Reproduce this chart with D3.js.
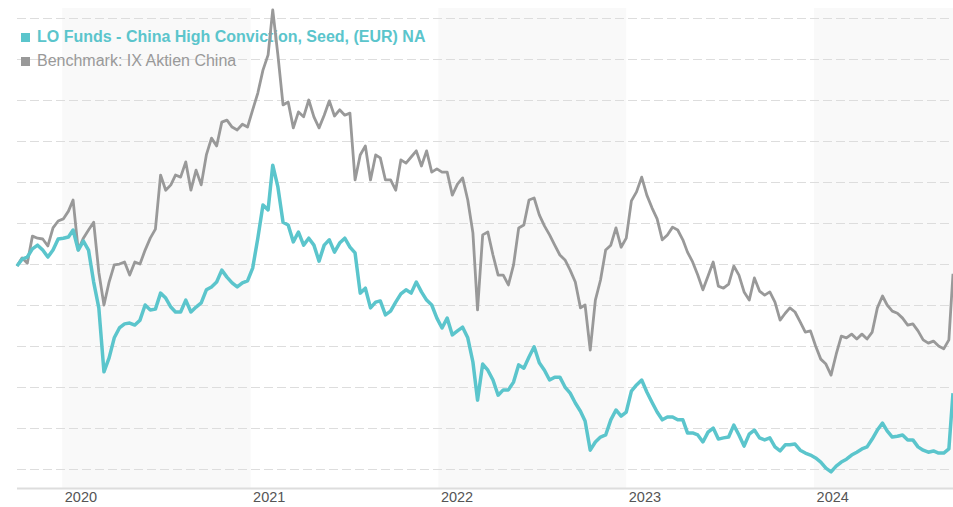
<!DOCTYPE html>
<html>
<head>
<meta charset="utf-8">
<script src="https://cdn.jsdelivr.net/npm/d3@7"></script>
<style>
  body { margin: 0; background: #fff; }
  svg { display: block; font-family: "Liberation Sans", Arial, sans-serif; }
</style>
</head>
<body>
<svg id="chart" width="953" height="507"></svg>
<script>
// series, indexed (start ~ 100), sampled roughly every 10 days, last point = last day
const startDate = new Date(2019, 9, 5)
const endDate = new Date(2024, 8, 27)
const sampleDays = 9.95

const seriesNames = ['LO Funds - China High Conviction, Seed, (EUR) NA', 'Benchmark: IX Aktien China']
const yearTicks = [2020, 2021, 2022, 2023, 2024]
const valueTicks = [50, 60, 70, 80, 90, 100, 110, 120, 130, 140, 150, 160]

const fundValues = [
  99.5, 101.2, 101.7, 103.7, 104.6, 103.4, 101.7, 103.4, 106.1, 106.3,
  106.6, 108.3, 103.4, 105.6, 103.4, 95.6, 89.3, 73.7, 77.1, 82,
  84.4, 85.4, 85.6, 85.1, 86.3, 90, 88.8, 89, 92.9, 91.7,
  89.5, 88.3, 88.3, 91.2, 88.3, 89.5, 90.5, 93.7, 94.4, 95.6,
  98.5, 96.8, 95.4, 94.4, 95.4, 95.9, 99, 106.3, 114.4, 113.2,
  124.1, 118.8, 110.2, 109.5, 105.4, 107.8, 104.6, 106.3, 104.6, 100.7,
  104.6, 105.9, 102.9, 105.1, 106.3, 104.1, 102.7, 92.9, 94.1, 89.3,
  90.7, 91, 87.6, 88.5, 90.7, 92.7, 93.7, 92.9, 95.6, 93.2,
  91.2, 90, 86.8, 84.4, 86.8, 82.7, 83.7, 84.6, 82, 76.1,
  66.8, 75.6, 74.1, 71.7, 68, 69.3, 69.3, 71.2, 75.4, 74.6,
  77.3, 79.8, 75.9, 74.1, 71.7, 72.4, 72.4, 70, 68.5, 66.1,
  64.1, 61.7, 54.6, 56.6, 57.8, 58.3, 62, 64.4, 62.9, 63.9,
  69, 70.5, 71.7, 68.8, 66.3, 63.9, 62, 62.7, 62.7, 62,
  62, 58.8, 58.8, 58.3, 56.6, 59, 60, 57.3, 57.6, 57.8,
  60.7, 58.3, 55.6, 58.5, 59.5, 57.6, 57.1, 57.6, 55.4, 54.4,
  55.9, 55.9, 56.1, 54.6, 53.9, 53.4, 52.7, 51.7, 50.2, 49.3,
  50.7, 51.7, 52.4, 53.4, 54.1, 54.9, 55.4, 57.3, 59.5, 61.2,
  59.3, 57.8, 58, 58.3, 57.1, 57.1, 55.4, 54.6, 54.1, 54.4,
  53.9, 53.9, 54.9, 68.5
]

const benchValues = [
  99.5, 101.5, 100.2, 106.8, 106.3, 106.1, 104.4, 108.8, 110.5, 111,
  112.9, 115.6, 103.4, 106.3, 108.3, 110.2, 98, 90, 95.6, 99.8,
  100, 100.5, 97.3, 100.5, 100, 103.4, 106.3, 108.5, 121.7, 118,
  119.3, 121.7, 121.2, 124.9, 118, 122.9, 119.3, 126.6, 130.7, 128.8,
  134.6, 135.1, 133.4, 132.7, 134.1, 133.4, 137.6, 141.7, 147.3, 151,
  162, 151, 138.8, 139.5, 133.2, 137.1, 135.9, 140, 135.9, 133.2,
  136.3, 139.8, 136.1, 137.6, 136.3, 136.8, 120.5, 126.6, 128.8, 120.5,
  126.6, 125.9, 120.5, 120.5, 118, 125.4, 124.6, 126.1, 127.6, 123.9,
  127.6, 122.4, 123.2, 122.4, 122.4, 116.8, 119.5, 121, 115.6, 107.6,
  88.8, 107.1, 107.8, 102.2, 97.3, 97.3, 94.9, 99.8, 108.8, 109.5,
  115.6, 116.1, 112, 109.3, 107.1, 104.6, 102.2, 101, 98.5, 95.6,
  89.3, 90, 79, 91.2, 96.1, 103.4, 104.6, 108.8, 104.1, 106.3,
  115.4, 117.6, 121.2, 116.8, 113.7, 111, 105.9, 107.1, 109, 108.3,
  105.9, 102.9, 100.5, 97.3, 93.7, 97.1, 100.5, 94.6, 94.1, 95.1,
  99.5, 97.3, 93.2, 91.2, 96.6, 93.4, 92.4, 93.2, 90.7, 86.3,
  88, 89.3, 88.3, 85.9, 83.4, 83.7, 80, 76.8, 75.6, 72.9,
  78, 82.4, 82, 82.9, 81.7, 82.9, 81.7, 83.4, 89.3, 92.2,
  90, 88.5, 88, 86.8, 85.1, 85.4, 83.7, 81.5, 80.7, 81.2,
  80, 79.3, 81.5, 97.6
]

const colors = { fund: '#5bc5cc', bench: '#999999', band: '#f9f9f9', grid: '#dddddd' }

const width = 953
const height = 507
const plot = { left: 17, right: 953, top: 8, bottom: 488 }

const toPoints = (values) => values.map((v, i) => ({
  date: i === values.length - 1 ? endDate : d3.timeDay.offset(startDate, Math.round(i * sampleDays)),
  value: v,
}))

const fund = toPoints(fundValues)
const bench = toPoints(benchValues)

const x = d3.scaleTime()
  .domain([startDate, endDate])
  .range([plot.left, plot.right])

const y = d3.scaleLinear()
  .domain([45.37, 162.44])
  .range([plot.bottom, plot.top])

const svg = d3.select('#chart')
  .attr('width', width)
  .attr('height', height)

// alternating year bands
const bands = yearTicks.filter((yr) => yr % 2 === 0)
svg.append('g')
  .selectAll('rect')
  .data(bands)
  .enter().append('rect')
  .attr('x', (yr) => x(new Date(yr, 0, 1)))
  .attr('y', plot.top)
  .attr('width', (yr) => Math.min(x(new Date(yr + 1, 0, 1)), plot.right) - x(new Date(yr, 0, 1)))
  .attr('height', plot.bottom - plot.top)
  .style('fill', colors.band)

// dashed grid
svg.append('g')
  .selectAll('line')
  .data(valueTicks)
  .enter().append('line')
  .attr('x1', plot.left)
  .attr('x2', plot.right)
  .attr('y1', (d) => Math.round(y(d)) + 0.5)
  .attr('y2', (d) => Math.round(y(d)) + 0.5)
  .style('stroke', colors.grid)
  .style('stroke-width', 1.2)
  .style('stroke-dasharray', '9,4')

// bottom axis
const xAxis = d3.axisBottom(x)
  .tickValues(yearTicks.map((yr) => new Date(yr, 0, 1)))
  .tickFormat(d3.timeFormat('%Y'))
  .tickSize(0)

const axisG = svg.append('g')
  .attr('transform', `translate(0, ${plot.bottom})`)
  .call(xAxis)

axisG.select('.domain')
  .attr('d', `M${plot.left},0.5H${plot.right}`)
  .style('stroke', colors.grid)
  .style('stroke-width', 2)

axisG.selectAll('text')
  .attr('text-anchor', 'start')
  .attr('x', 2)
  .attr('y', 14)
  .attr('dy', 0)
  .style('font-family', '"Liberation Sans", Arial, sans-serif')
  .style('font-size', '14.5px')
  .style('fill', '#555')

// legend
const legend = svg.append('g')
const legendItems = [
  { name: seriesNames[0], color: colors.fund, weight: 'bold', y: 42 },
  { name: seriesNames[1], color: colors.bench, weight: 'normal', y: 66 },
]
legend.selectAll('rect')
  .data(legendItems)
  .enter().append('rect')
  .attr('x', 21)
  .attr('y', (d) => d.y - 9)
  .attr('width', 9)
  .attr('height', 9)
  .style('fill', (d) => d.color)
legend.selectAll('text')
  .data(legendItems)
  .enter().append('text')
  .attr('x', 37)
  .attr('y', (d) => d.y)
  .text((d) => d.name)
  .style('font-size', '16px')
  .style('font-weight', (d) => d.weight)
  .style('fill', (d) => d.color)

// lines
const line = d3.line()
  .x((d) => x(d.date))
  .y((d) => y(d.value))

svg.append('path')
  .datum(bench)
  .attr('d', line)
  .style('fill', 'none')
  .style('stroke', colors.bench)
  .style('stroke-width', 2.8)
  .style('stroke-linejoin', 'round')

svg.append('path')
  .datum(fund)
  .attr('d', line)
  .style('fill', 'none')
  .style('stroke', colors.fund)
  .style('stroke-width', 3.5)
  .style('stroke-linejoin', 'round')
</script>
</body>
</html>
